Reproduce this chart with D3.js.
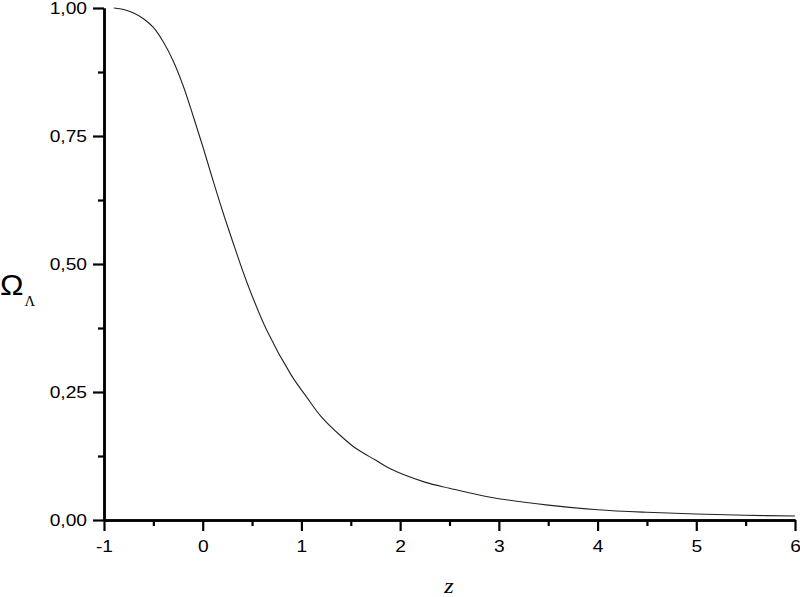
<!DOCTYPE html>
<html>
<head>
<meta charset="utf-8">
<script src="https://d3js.org/d3.v7.min.js"></script>
<style>
  body { margin: 0; background: #fff; }
  .axis text { font-family: "Liberation Sans", Arial, sans-serif; font-size: 16px; fill: #000; }
  .axis .domain { stroke: #000; stroke-width: 2.5; }
  .axis line { stroke: #000; stroke-width: 2.2; }
</style>
</head>
<body>
<svg id="chart" width="800" height="597"></svg>
<script>
// values
var zValues = [-0.9, -0.8, -0.7, -0.6, -0.5, -0.4, -0.3, -0.2, -0.1, 0, 0.1, 0.2, 0.3, 0.45,
               0.65, 0.9, 1.05, 1.2, 1.4, 1.55, 1.75, 1.9, 2.25, 2.5, 2.9, 3.5, 4.0, 4.5, 5.0, 5.5, 6.0];
var omegaValues = [1.000, 0.997, 0.990, 0.979, 0.962, 0.934, 0.897, 0.849, 0.791, 0.730, 0.666, 0.604, 0.546, 0.463,
                   0.370, 0.282, 0.241, 0.202, 0.164, 0.140, 0.117, 0.100, 0.074, 0.062, 0.045, 0.029, 0.020, 0.015, 0.0117, 0.0092, 0.0078];
var xMajorTicks = [-1, 0, 1, 2, 3, 4, 5, 6];
var xMinorTicks = [-0.5, 0.5, 1.5, 2.5, 3.5, 4.5, 5.5];
var yMajorTicks = [0, 0.25, 0.5, 0.75, 1];
var yMinorTicks = [0.125, 0.375, 0.625, 0.875];

var svg = d3.select("#chart"),
    margin = {top: 8, right: 5, bottom: 77, left: 104},
    width = +svg.attr("width") - margin.left - margin.right,
    height = +svg.attr("height") - margin.top - margin.bottom,
    stretch = 1.2;

var g = svg.append("g")
    .attr("transform", "translate(" + margin.left + "," + margin.top + ")");

var x = d3.scaleLinear().domain([-1, 6]).range([0, width]),
    y = d3.scaleLinear().domain([0, 1]).range([height, 0]);

var data = zValues.map(function(z, i) { return {z: z, v: omegaValues[i]}; });

var comma = function(d) { return d3.format(".2f")(d).replace(".", ","); };
var plain = function(d) { return String(d); };   // hyphen, not unicode minus

// minor ticks first, then major axes on top
g.append("g")
    .attr("class", "axis")
    .attr("transform", "translate(0," + height + ")")
    .call(d3.axisBottom(x).tickValues(xMinorTicks).tickSize(6).tickSizeOuter(0).tickFormat(""));

g.append("g")
    .attr("class", "axis")
    .call(d3.axisLeft(y).tickValues(yMinorTicks).tickSize(6).tickSizeOuter(0).tickFormat(""));

var xAxis = g.append("g")
    .attr("class", "axis")
    .attr("transform", "translate(0," + height + ")")
    .call(d3.axisBottom(x).tickValues(xMajorTicks).tickSize(11).tickPadding(10).tickSizeOuter(0)
      .tickFormat(plain));

var yAxis = g.append("g")
    .attr("class", "axis")
    .call(d3.axisLeft(y).tickValues(yMajorTicks).tickSize(11).tickPadding(6).tickSizeOuter(0)
      .tickFormat(comma));

// labels in the reference are a bit wider than Arial
xAxis.selectAll("text").attr("transform", "scale(" + stretch + ",1)");
yAxis.selectAll("text").each(function() {
  var t = d3.select(this);
  t.attr("x", +t.attr("x") / stretch).attr("transform", "scale(" + stretch + ",1)");
});

var line = d3.line()
    .x(function(d) { return x(d.z); })
    .y(function(d) { return y(d.v); })
    .curve(d3.curveCatmullRom.alpha(0.5));

g.append("path")
    .datum(data)
    .attr("fill", "none")
    .attr("stroke", "#222")
    .attr("stroke-width", 1.1)
    .attr("d", line);

// y label: Omega with subscript Lambda
var yLabel = svg.append("text")
    .attr("transform", "translate(0,295) scale(1.05,1)")
    .attr("font-family", "'Liberation Sans', Arial, sans-serif")
    .attr("fill", "#000");
yLabel.append("tspan").attr("font-size", 30).text("Ω");
yLabel.append("tspan").attr("font-size", 14).attr("dx", 1).attr("dy", 11)
    .attr("font-family", "'Liberation Serif', serif").text("Λ");

// x label
svg.append("text")
    .attr("transform", "translate(449,593) scale(1.1,1)")
    .attr("text-anchor", "middle")
    .attr("font-family", "'Liberation Serif', 'Times New Roman', serif")
    .attr("font-style", "italic")
    .attr("font-size", 22)
    .attr("fill", "#000")
    .text("z");
</script>
</body>
</html>
